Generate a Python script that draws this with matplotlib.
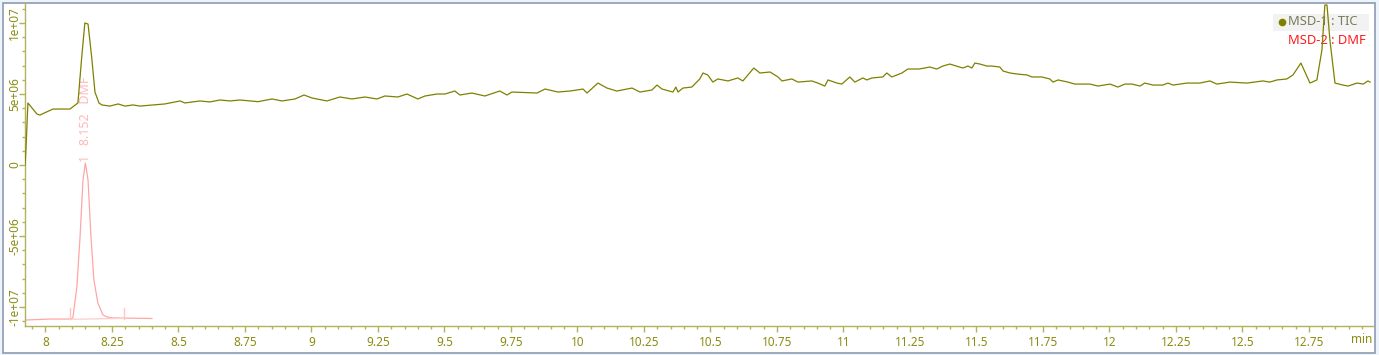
import matplotlib.pyplot as plt
from matplotlib.patches import Rectangle
from matplotlib.ticker import MultipleLocator, FuncFormatter

plt.rcParams['font.family'] = ['Noto Sans', 'DejaVu Sans']

# ------------------------------------------------
# Data
# ------------------------------------------------
# MSD-1 TIC: retention time (min) and abundance (x1e6 counts)
tic_time = [7.923, 7.926, 7.934, 7.968, 7.979, 8.028, 8.055, 8.092, 8.122, 8.136, 8.148,
            8.160, 8.174, 8.186, 8.201, 8.212, 8.242, 8.273, 8.299, 8.329, 8.355, 8.404,
            8.449, 8.506, 8.524, 8.581, 8.618, 8.656, 8.694, 8.731, 8.799, 8.852, 8.889,
            8.938, 8.972, 9.002, 9.058, 9.107, 9.152, 9.201, 9.246, 9.276, 9.325, 9.359,
            9.400, 9.427, 9.472, 9.502, 9.539, 9.558, 9.603, 9.652, 9.708, 9.735, 9.754,
            9.848, 9.878, 9.927, 9.972, 10.021, 10.036, 10.077, 10.111, 10.148, 10.205,
            10.235, 10.280, 10.299, 10.318, 10.359, 10.370, 10.378, 10.397, 10.430, 10.460,
            10.472, 10.490, 10.509, 10.528, 10.566, 10.603, 10.622, 10.663, 10.686, 10.724,
            10.754, 10.769, 10.806, 10.829, 10.881, 10.904, 10.930, 10.942, 10.976, 10.994,
            11.024, 11.043, 11.073, 11.088, 11.107, 11.148, 11.163, 11.182, 11.220, 11.242,
            11.284, 11.325, 11.351, 11.374, 11.400, 11.449, 11.468, 11.483, 11.494, 11.513,
            11.539, 11.558, 11.588, 11.600, 11.626, 11.652, 11.690, 11.709, 11.746, 11.776,
            11.788, 11.807, 11.844, 11.870, 11.900, 11.927, 11.957, 12.002, 12.032, 12.058,
            12.085, 12.115, 12.133, 12.164, 12.201, 12.220, 12.239, 12.291, 12.340, 12.378,
            12.404, 12.453, 12.517, 12.577, 12.603, 12.630, 12.667, 12.690, 12.720, 12.754,
            12.780, 12.799, 12.810, 12.818, 12.829, 12.848, 12.878, 12.897, 12.931, 12.954,
            12.972, 12.980]
tic_abund = [0.00, 0.85, 4.37, 3.59, 3.52, 3.94, 3.94, 3.94, 4.37, 7.54, 10.00,
             9.93, 7.54, 5.14, 4.37, 4.23, 4.15, 4.30, 4.15, 4.23, 4.15, 4.23,
             4.30, 4.51, 4.37, 4.51, 4.44, 4.58, 4.51, 4.58, 4.46, 4.65, 4.51,
             4.65, 4.93, 4.72, 4.51, 4.79, 4.65, 4.79, 4.65, 4.86, 4.79, 5.00,
             4.65, 4.86, 5.00, 5.00, 5.21, 4.93, 5.07, 4.86, 5.21, 4.93, 5.14,
             5.07, 5.35, 5.14, 5.21, 5.35, 5.07, 5.77, 5.42, 5.21, 5.42,
             5.14, 5.28, 5.63, 5.35, 5.14, 5.49, 5.14, 5.42, 5.49, 6.06,
             6.48, 6.34, 5.84, 6.06, 5.92, 6.13, 5.92, 6.83, 6.48, 6.55,
             6.20, 5.92, 6.06, 5.84, 5.92, 5.77, 5.56, 5.99, 5.77, 5.70,
             6.20, 5.84, 6.13, 5.99, 6.13, 6.20, 6.48, 6.20, 6.48, 6.76,
             6.76, 6.90, 6.76, 6.97, 7.11, 6.83, 6.97, 6.83, 7.18, 7.11,
             6.97, 6.97, 6.90, 6.62, 6.48, 6.41, 6.34, 6.20, 6.20, 6.06,
             5.84, 5.99, 5.84, 5.70, 5.70, 5.70, 5.56, 5.70, 5.49, 5.70,
             5.70, 5.56, 5.77, 5.63, 5.63, 5.77, 5.63, 5.77, 5.77, 5.92,
             5.70, 5.84, 5.77, 5.92, 5.84, 5.99, 6.06, 6.34, 7.18, 5.77,
             5.99, 8.10, 11.27, 11.27, 8.80, 5.77, 5.63, 5.56, 5.77, 5.70,
             5.92, 5.84]

# MSD-2 DMF trace, drawn offset below the TIC (x1e6 on the same axis)
dmf_time = [7.923, 8.017, 8.092, 8.103, 8.118, 8.130, 8.141, 8.150, 8.160,
            8.171, 8.182, 8.197, 8.216, 8.231, 8.254, 8.400]
dmf_abund = [-10.92, -10.85, -10.85, -10.77, -8.59, -5.07, -1.06, 0.14, -1.06,
             -5.07, -8.10, -9.72, -10.56, -10.70, -10.77, -10.81]

# integration of the DMF peak
peak_rt = 8.152
peak_label = "1   8.152   DMF"
integ_start = 8.092
integ_end = 8.295
integ_base = [-10.87, -10.80]

legend_labels = ["MSD-1 : TIC", "MSD-2 : DMF"]

TIC_COLOR = "#808000"
DMF_COLOR = "#ffa6a6"
AXIS_COLOR = "#b2b25c"
LABEL_COLOR = "#8c8c14"


def fmt_abund(v, pos):
    return "%g" % v


# ------------------------------------------------
# Figure with the light frame around the plot
# ------------------------------------------------
fig = plt.figure(figsize=(13.79, 3.55), dpi=100)
fig.patch.set_facecolor("#edf4fc")
fig.add_artist(Rectangle((3 / 1379, 2 / 355), 1372 / 1379, 350 / 355,
                         transform=fig.transFigure, facecolor="white",
                         edgecolor="#8e9bb0", linewidth=1.2, zorder=0))

ax = fig.add_axes([25 / 1379, 29 / 355, 1348 / 1379, 323 / 355])
ax.patch.set_visible(False)

ax.plot(tic_time, [v * 1e6 for v in tic_abund], color=TIC_COLOR, lw=0.9, zorder=3)
ax.plot(dmf_time, [v * 1e6 for v in dmf_abund], color=DMF_COLOR, lw=0.9, zorder=2)

# integration baseline and start / end marks
ax.plot([integ_start, integ_end], [integ_base[0] * 1e6, integ_base[1] * 1e6],
        color="#ffd0d0", lw=1.0, zorder=2)
for t in (integ_start, integ_end):
    ax.plot([t, t], [-10.85e6, -10.1e6], color="#ffc4c4", lw=1.0, zorder=2)

ax.text(peak_rt, 0.2e6, peak_label, rotation=90, ha="center", va="bottom",
        color="#ffb8b8", fontsize=9, zorder=2)

# ------------------------------------------------
# Axes styling
# ------------------------------------------------
ax.set_xlim(7.923, 12.991)
ax.set_ylim(-11.34e6, 11.41e6)

for side in ("top", "right"):
    ax.spines[side].set_visible(False)
for side in ("left", "bottom"):
    ax.spines[side].set_color(AXIS_COLOR)
    ax.spines[side].set_linewidth(1.0)

ax.xaxis.set_major_locator(MultipleLocator(0.25))
ax.xaxis.set_minor_locator(MultipleLocator(0.05))
ax.xaxis.set_major_formatter(FuncFormatter(lambda v, p: "%g" % round(v, 2)))
ax.yaxis.set_major_locator(MultipleLocator(5e6))
ax.yaxis.set_minor_locator(MultipleLocator(1e6))
ax.yaxis.set_major_formatter(FuncFormatter(fmt_abund))

ax.tick_params(which="major", length=4.3, width=1, color=AXIS_COLOR,
               labelcolor=LABEL_COLOR, labelsize=8.5, pad=3)
ax.tick_params(which="minor", length=2.5, width=1, color=AXIS_COLOR)
ax.tick_params(axis="y", which="major", labelrotation=90, pad=-1.5)
for lab in ax.get_yticklabels():
    lab.set_va("center")

ax.text(0.9918, -0.021, "min", transform=ax.transAxes, ha="center", va="top",
        color=LABEL_COLOR, fontsize=8.5)

# ------------------------------------------------
# Legend box at the top right
# ------------------------------------------------
ax.add_patch(Rectangle((0.9258, 0.9133), 0.0712, 0.0526, transform=ax.transAxes,
                       facecolor="#f2f2f2", edgecolor="none", zorder=1))
ax.plot([0.9322], [0.9412], "o", ms=4.5, color=TIC_COLOR, transform=ax.transAxes,
        zorder=1)
ax.text(0.9372, 0.9412, legend_labels[0], transform=ax.transAxes,
        ha="left", va="center", fontsize=9.3, color="#7a7a5a", zorder=1)
ax.text(0.9372, 0.8854, legend_labels[1], transform=ax.transAxes,
        ha="left", va="center", fontsize=9.3, color="#ff1a1a", zorder=1)

fig.savefig("out.png", dpi=100, facecolor=fig.get_facecolor())
